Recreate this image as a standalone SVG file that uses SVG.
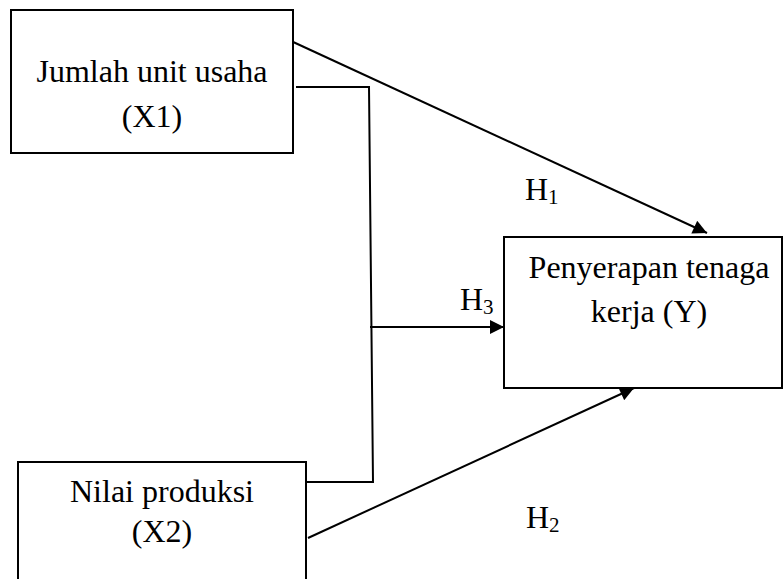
<svg xmlns="http://www.w3.org/2000/svg" width="784" height="579" viewBox="0 0 784 579">
<defs>
<style>
.box{fill:#fff;stroke:#000;stroke-width:2}
.t{font-family:"Liberation Serif","Times New Roman",serif;font-size:32px;fill:#000}
.s{font-size:21px}
.ln{fill:none;stroke:#000;stroke-width:2}
</style>
<marker id="ah" viewBox="0 0 10 10" refX="10" refY="5" markerWidth="7.5" markerHeight="7" markerUnits="strokeWidth" orient="auto">
<path d="M0,0 L10,5 L0,10 z" fill="#000"/>
</marker>
</defs>
<rect width="784" height="579" fill="#fff"/>
<g id="connectors">
<path class="ln" d="M291,41 L707,233" marker-end="url(#ah)"/>
<path class="ln" d="M296,87 L369,87 L373,482 L306,482"/>
<path class="ln" d="M370,327 L504,327" marker-end="url(#ah)"/>
<path class="ln" d="M308,538 L634,388" marker-end="url(#ah)"/>
</g>
<g id="x1">
<rect class="box" x="11" y="10" width="282" height="143"/>
<text class="t" x="152" y="82" text-anchor="middle">Jumlah unit usaha</text>
<text class="t" x="152" y="127" text-anchor="middle">(X1)</text>
</g>
<g id="x2">
<rect class="box" x="18" y="462" width="288" height="130"/>
<text class="t" x="162" y="502" text-anchor="middle">Nilai produksi</text>
<text class="t" x="162" y="542" text-anchor="middle">(X2)</text>
</g>
<g id="y">
<rect class="box" x="504" y="237" width="278" height="151"/>
<text class="t" x="649" y="278" text-anchor="middle">Penyerapan tenaga</text>
<text class="t" x="649" y="322" text-anchor="middle">kerja (Y)</text>
</g>
<g id="labels">
<text class="t" x="525" y="200">H<tspan class="s" dy="4">1</tspan></text>
<text class="t" x="460" y="310">H<tspan class="s" dy="4">3</tspan></text>
<text class="t" x="526" y="528">H<tspan class="s" dy="4">2</tspan></text>
</g>
</svg>
